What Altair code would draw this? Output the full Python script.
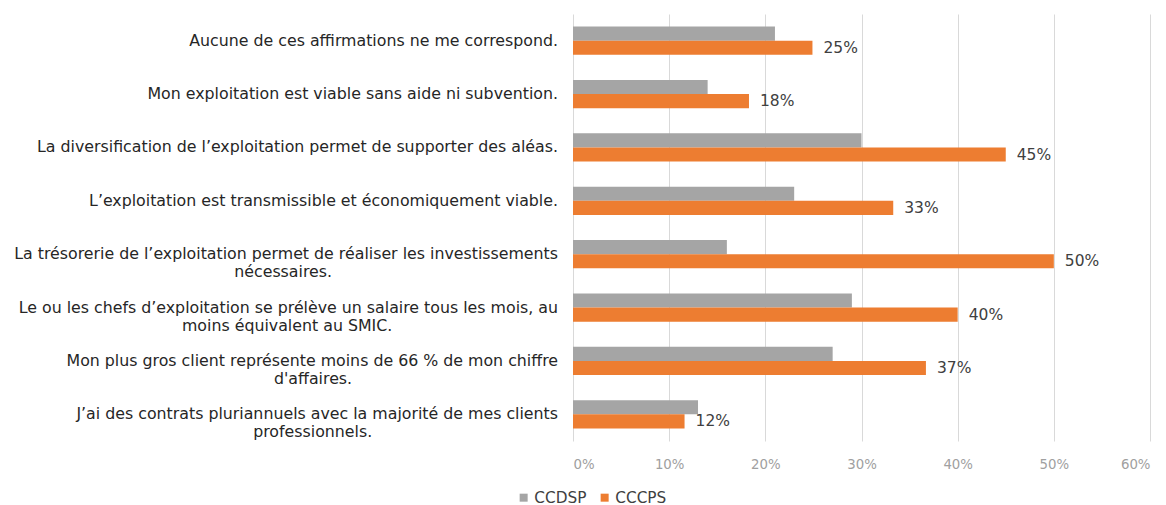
import altair as alt
import pandas as pd

# ---- data ----
line1 = [
    "Aucune de ces affirmations ne me correspond.",
    "Mon exploitation est viable sans aide ni subvention.",
    "La diversification de l’exploitation permet de supporter des aléas.",
    "L’exploitation est transmissible et économiquement viable.",
    "La trésorerie de l’exploitation permet de réaliser les investissements",
    "Le ou les chefs d’exploitation se prélève un salaire tous les mois, au",
    "Mon plus gros client représente moins de 66 % de mon chiffre",
    "J’ai des contrats pluriannuels avec la majorité de mes clients",
]
line2 = ["", "", "", "", "nécessaires.", "moins équivalent au SMIC.", "d'affaires.", "professionnels."]
ccdsp = [0.21, 0.14, 0.30, 0.23, 0.16, 0.29, 0.27, 0.13]
cccps = [0.249, 0.183, 0.45, 0.333, 0.50, 0.40, 0.367, 0.116]
series = ["CCDSP", "CCCPS"]
x_ticks = [0, 0.1, 0.2, 0.3, 0.4, 0.5, 0.6]

# approximate DejaVu Sans advance widths (units per em = 2048) to centre 2nd lines
W = {' ': 651, '.': 651, ',': 651, "'": 563, '’': 651, '%': 1946}
W.update({c: w for c, w in zip("abcdefghijklmnopqrstuvwxyz",
          [1255, 1300, 1126, 1300, 1260, 721, 1300, 1298, 569, 569, 1186, 569, 1995,
           1298, 1253, 1300, 1300, 842, 1067, 803, 1298, 1212, 1675, 1212, 1212, 1075])})
def tw(s):
    tot = 0
    for ch in s:
        if ch in W:
            tot += W[ch]
        elif ch in "éèêà":
            tot += 1260 if ch != "à" else 1255
        elif ch.isdigit():
            tot += 1303
        elif ch.isupper():
            tot += 1400
        else:
            tot += 1200
    return tot

labels = []
for a, b in zip(line1, line2):
    if b:
        n = max(0, round((tw(a) - tw(b)) / 2 / 651))
        labels.append(a + "\n" + b + "\u00a0" * n + "\u200b")
    else:
        labels.append(a)

rows = []
for i, cat in enumerate(line1):
    rows.append({"cat": cat, "label": labels[i], "series": "CCDSP", "value": ccdsp[i]})
    rows.append({"cat": cat, "label": labels[i], "series": "CCCPS", "value": cccps[i]})
df = pd.DataFrame(rows)
cat_df = pd.DataFrame({"cat": line1, "label": labels})

FONT = "DejaVu Sans"

y_enc = alt.Y("cat:N", sort=line1,
              scale=alt.Scale(paddingInner=0.47, paddingOuter=0.235),
              axis=None)

bars = alt.Chart(df).mark_bar().encode(
    y=y_enc,
    yOffset=alt.YOffset("series:N", sort=series),
    x=alt.X("value:Q", scale=alt.Scale(domain=[0, 0.6]),
            axis=alt.Axis(values=x_ticks, format=".0%", grid=True, gridColor="#d9d9d9",
                          domain=False, ticks=False, labelColor="#a0a0a0",
                          labelFontSize=13.3, labelPadding=16, labelFont=FONT, title=None)),
    color=alt.Color("series:N", sort=series,
                    scale=alt.Scale(domain=series, range=["#A5A5A5", "#ED7D31"]),
                    legend=alt.Legend(title=None, orient="none", direction="horizontal",
                                      legendX=-57, legendY=476, symbolType="square",
                                      symbolSize=64, labelFontSize=15.3, labelFont=FONT,
                                      labelColor="#404040", columnPadding=10,
                                      labelOffset=3, symbolOffset=0)),
)

vals = alt.Chart(df).transform_filter(alt.datum.series == "CCCPS").mark_text(
    align="left", baseline="middle", dx=11, fontSize=15.5, font=FONT, color="#404040"
).encode(
    y=y_enc,
    yOffset=alt.YOffset("series:N", sort=series),
    x="value:Q",
    text=alt.Text("value:Q", format=".0%"),
)

cats = alt.Chart(cat_df).mark_text(
    align="right", baseline="middle", lineBreak="\n", lineHeight=18,
    fontSize=15.8, font=FONT, color="#262626"
).encode(
    y=y_enc,
    x=alt.value(-15),
    text="label:N",
)

chart = alt.layer(bars, vals, cats).properties(
    width=577, height=427,
    padding={"left": 6, "top": 6, "right": 5, "bottom": 5},
).configure_view(stroke=None)

chart.save("out.html", embed_options={"renderer": "svg", "actions": False})
